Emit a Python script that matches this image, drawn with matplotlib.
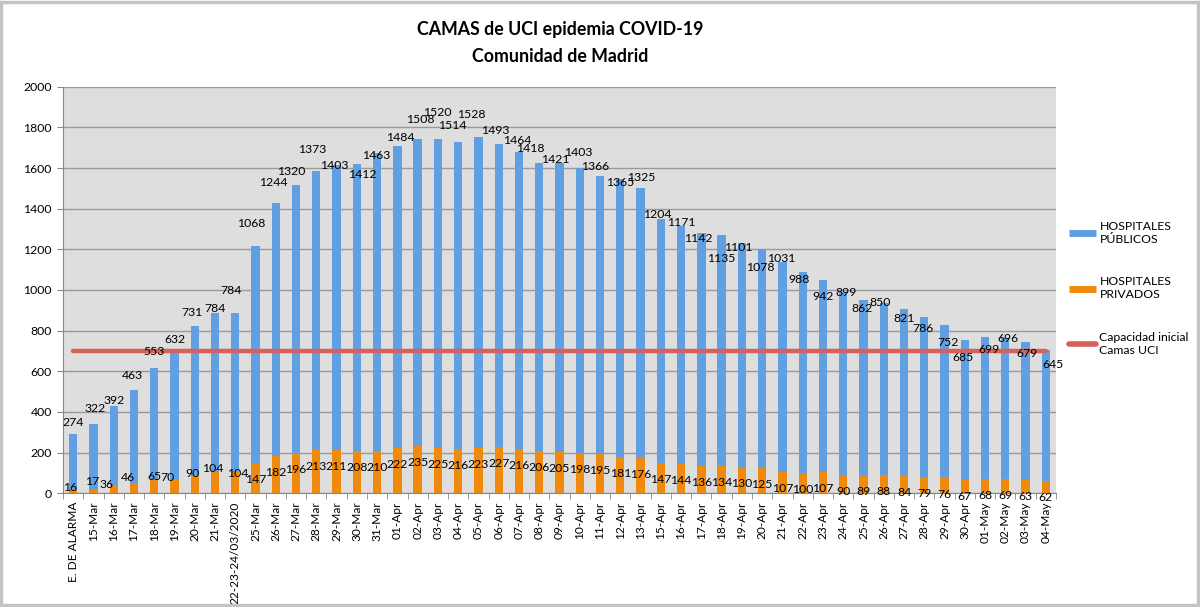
import matplotlib
matplotlib.use("Agg")
import matplotlib.pyplot as plt
from matplotlib.lines import Line2D
from matplotlib.patches import Rectangle
import numpy as np

plt.rcParams['font.family'] = ['Lato', 'DejaVu Sans']

categories = (["E. DE ALARMA"] +
              [f"{d}-Mar" for d in range(15, 22)] +
              ["22-23-24/03/2020"] +
              [f"{d}-Mar" for d in range(25, 32)] +
              [f"{d:02d}-Apr" for d in range(1, 14)] +
              [f"{d:02d}-Apr" for d in range(15, 31)] +
              [f"{d:02d}-May" for d in range(1, 5)])

publicos = [274, 322, 392, 463, 553, 632, 731, 784, 784, 1068, 1244, 1320, 1373,
            1403, 1412, 1463, 1484, 1508, 1520, 1514, 1528, 1493, 1464, 1418,
            1421, 1403, 1366, 1365, 1325, 1204, 1171, 1142, 1135, 1101, 1078,
            1031, 988, 942, 899, 862, 850, 821, 786, 752, 685, 699, 696, 679, 645]

privados = [16, 17, 36, 46, 65, 70, 90, 104, 104, 147, 182, 196, 213, 211, 208,
            210, 222, 235, 225, 216, 223, 227, 216, 206, 205, 198, 195, 181, 176,
            147, 144, 136, 134, 130, 125, 107, 100, 107, 90, 89, 88, 84, 79, 76,
            67, 68, 69, 63, 62]

capacidad = [700] * len(categories)

# label placement (pixel offsets from the top of each segment; +dy = downward)
pub_dx = [0, 2, 0, -1.5, 0, 0, -3, 0, -4, -4, -3, -5, -4, -2, 5, -1, 3, 3, -1, -6,
          -7, -3, -2, -9, -4, -2, -5, 0, 1, -4, 0, -3, 0, -4, -2, -1, -4, 0, 3, -1,
          -4, 0, -1, 3, -2, 4, 3, 1, 7]
pub_dy = [-12, -16, -6, -14, -16, -11, -14, -4, -22, -23, -21, -14, -21, 0, 11, 2,
          -9, -19, -26, -16, -23, -13, -11, -15, -3, -15, -9, 4, -11, -4, -3, 5, 23,
          4, 19, -3, 7, 16, 0, 9, 0, 9, 11, 18, 17, 12, 1, 11, 15]
priv_dx = [-3.4, -1, -7, -6.5, 0, -6.5, -2, -2, 2] + [0] * 40
priv_dy = [-3, -8, -1, -6, -4, -2, -2, -4, 1] + [16.5] * 40

BLUE = '#619FE3'
ORANGE = '#F08A0C'
RED = '#D5615B'

fig = plt.figure(figsize=(12, 6.07), dpi=100)
ax = fig.add_axes([63/1200, 1-493.3/607, (1056-63)/1200, (493.3-86.7)/607])
ax.set_facecolor('#DEDEDE')

x = np.arange(len(categories))
pub = np.array(publicos)
priv = np.array(privados)
w = 0.41
ax.bar(x, priv, width=w, color=ORANGE, zorder=2)
ax.bar(x, pub, width=w, bottom=priv, color=BLUE, zorder=2)
ax.plot(x, capacidad, color=RED, lw=3.2, solid_capstyle='round', zorder=3)

PX = 0.72  # points per pixel at 100 dpi
FS = 8.8
for i in range(len(x)):
    tot = pub[i] + priv[i]
    ax.annotate(str(pub[i]), (x[i], tot), xytext=(pub_dx[i]*PX, -pub_dy[i]*PX),
                textcoords='offset points', ha='center', va='center',
                fontsize=FS, color='black', zorder=4, annotation_clip=False)
    ax.annotate(str(priv[i]), (x[i], priv[i]), xytext=(priv_dx[i]*PX, -priv_dy[i]*PX),
                textcoords='offset points', ha='center', va='center',
                fontsize=FS, color='black', zorder=4, annotation_clip=False)

ax.set_xlim(-0.5, len(categories) - 0.5)
ax.set_ylim(0, 2000)
ax.set_yticks(np.arange(0, 2001, 200))
ax.yaxis.grid(True, color='#9A9A9A', lw=1)
ax.set_axisbelow(True)
ax.set_xticks(x)
ax.set_xticklabels(categories, rotation=90, fontsize=8.6)
ax.set_xticks(np.arange(-0.5, len(categories)), minor=True)
ax.tick_params(axis='x', which='major', length=0, pad=6)
ax.tick_params(axis='x', which='minor', length=4, color='#888888', direction='out')
ax.tick_params(axis='y', length=4, color='#888888', labelsize=FS, pad=4)
for s in ['top', 'right']:
    ax.spines[s].set_visible(False)
for s in ['left', 'bottom']:
    ax.spines[s].set_color('#888888')

fig.text(560/1200, 1-30/607, "CAMAS de UCI epidemia COVID-19", ha='center',
         va='center', fontsize=12.8, fontweight='bold')
fig.text(560/1200, 1-56/607, "Comunidad de Madrid", ha='center',
         va='center', fontsize=12.8, fontweight='bold')

handles = [Line2D([0], [0], color=BLUE, lw=5, solid_capstyle='butt'),
           Line2D([0], [0], color=ORANGE, lw=5, solid_capstyle='butt'),
           Line2D([0], [0], color=RED, lw=4, solid_capstyle='round')]
labels = ["HOSPITALES\nPÚBLICOS", "HOSPITALES\nPRIVADOS", "Capacidad inicial\nCamas UCI"]
fig.legend(handles, labels, loc='upper left', bbox_to_anchor=(1064/1200, 1-216/607),
           frameon=False, fontsize=8.8, handlelength=2.2, handletextpad=0.3,
           labelspacing=2.6, borderaxespad=0)

fig.patches.append(Rectangle((0.001, 0.003), 0.997, 0.994, transform=fig.transFigure,
                             fill=False, ec='#C4C4C4', lw=2.5))

fig.savefig('out.png', dpi=100)
